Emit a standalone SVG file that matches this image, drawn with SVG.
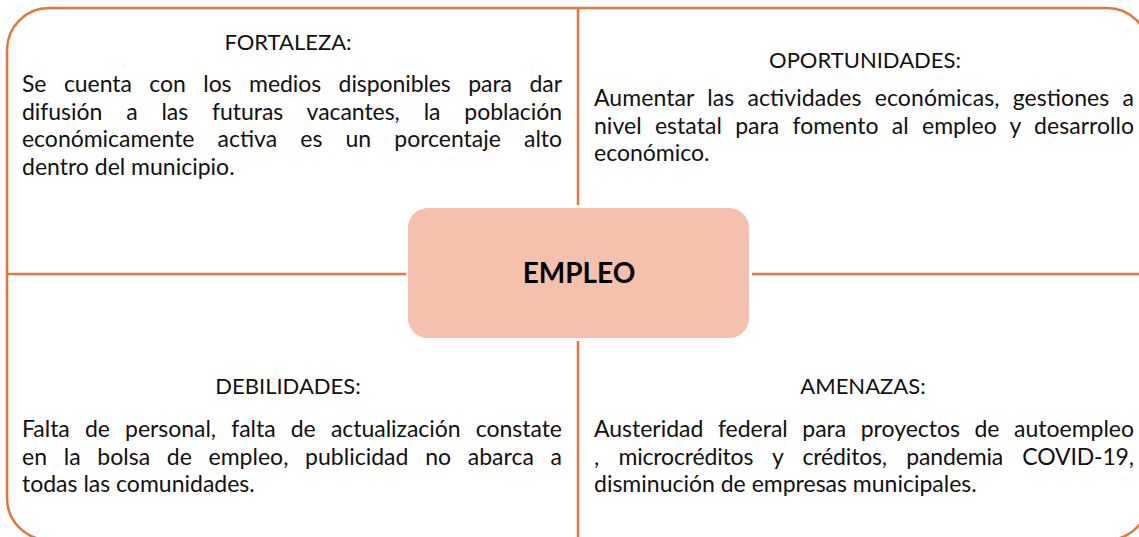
<svg xmlns="http://www.w3.org/2000/svg" width="1139" height="537" viewBox="0 0 1139 537">
<style>
.frame{fill:#FFFFFF;stroke:#E2773A;stroke-width:2.5}
.div{stroke:#E2773A;stroke-width:2.5;fill:none}
.hub{fill:#F5C0AC}
.t{font-family:Lato,"Noto Sans",sans-serif;font-size:23px;fill:#111111}
.h{font-family:Lato,"Noto Sans",sans-serif;font-size:22px;fill:#111111;text-anchor:middle}
.b{font-family:Lato,"Noto Sans",sans-serif;font-size:28px;font-weight:bold;fill:#000000;text-anchor:middle}
</style>
<rect width="1139" height="537" fill="#FFFFFF"/>
<g id="frame">
<rect class="frame" x="7" y="8" width="1142" height="532" rx="42" ry="42"/>
</g>
<g id="connectors">
<line class="div" x1="578" y1="8" x2="578" y2="205"/>
<line class="div" x1="578" y1="341" x2="578" y2="540"/>
<line class="div" x1="7" y1="274" x2="406" y2="274"/>
<line class="div" x1="752" y1="274" x2="1149" y2="274"/>
</g>
<g id="fortaleza">
<text class="h" x="288" y="50">FORTALEZA:</text>
<text class="t" x="22" y="92" word-spacing="11.8" textLength="540">Se cuenta con los medios disponibles para dar</text>
<text class="t" x="22" y="119.5" word-spacing="18.1" textLength="540">difusión a las futuras vacantes, la población</text>
<text class="t" x="22" y="147" word-spacing="17.3" textLength="540">económicamente activa es un porcentaje alto</text>
<text class="t" x="22" y="174.5">dentro del municipio.</text>
</g>
<g id="oportunidades">
<text class="h" x="865" y="68">OPORTUNIDADES:</text>
<text class="t" x="594" y="106" word-spacing="7.2" textLength="540">Aumentar las actividades económicas, gestiones a</text>
<text class="t" x="594" y="133.5" word-spacing="7.4" textLength="540">nivel estatal para fomento al empleo y desarrollo</text>
<text class="t" x="594" y="161">económico.</text>
</g>
<g id="debilidades">
<text class="h" x="288" y="394">DEBILIDADES:</text>
<text class="t" x="22" y="437" word-spacing="9.3" textLength="540">Falta de personal, falta de actualización constate</text>
<text class="t" x="22" y="464.5" word-spacing="10.8" textLength="540">en la bolsa de empleo, publicidad no abarca a</text>
<text class="t" x="22" y="492">todas las comunidades.</text>
</g>
<g id="amenazas">
<text class="h" x="863" y="394">AMENAZAS:</text>
<text class="t" x="594" y="437" word-spacing="8.7" textLength="540">Austeridad federal para proyectos de autoempleo</text>
<text class="t" x="594" y="464.5" word-spacing="13.6" textLength="540">, microcréditos y créditos, pandemia COVID-19,</text>
<text class="t" x="594" y="492">disminución de empresas municipales.</text>
</g>
<g id="empleo">
<rect class="hub" x="408" y="208" width="341" height="130" rx="20" ry="20"/>
<text class="b" x="579" y="283">EMPLEO</text>
</g>
</svg>
